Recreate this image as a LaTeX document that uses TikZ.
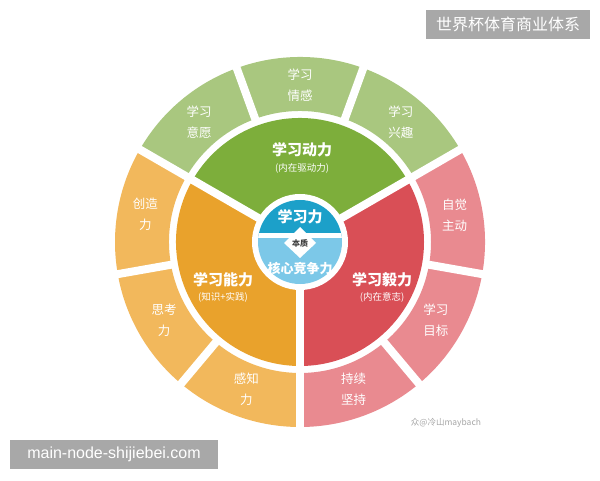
\documentclass[tikz,border=0pt]{standalone}
\usepackage{fontspec}
\setmainfont{Noto Sans CJK SC}
\newfontfamily\urlfont{Liberation Sans}

\definecolor{outergreen}{HTML}{A9C77F}
\definecolor{innergreen}{HTML}{7DAE3B}
\definecolor{outerorange}{HTML}{F2B85C}
\definecolor{innerorange}{HTML}{E9A22C}
\definecolor{outerpink}{HTML}{E98A90}
\definecolor{innerred}{HTML}{D94F56}
\definecolor{darkblue}{HTML}{1CA0C9}
\definecolor{lightblue}{HTML}{7CC8E8}
\definecolor{tagbg}{HTML}{A8A8A8}

\tikzset{
  outerlabel/.style={text=white, align=center, font=\fontsize{12.5}{21}\selectfont},
  innertitle/.style={text=white, font=\bfseries\fontsize{15}{18}\selectfont},
  innersub/.style={text=white, font=\fontsize{9.5}{11}\selectfont},
  gapline/.style={white, line width=8pt},
  tagbox/.style={fill=tagbg, text=white, minimum height=29pt, inner sep=0pt, font=\fontsize{16}{18}\selectfont}
}

\begin{document}
\begin{tikzpicture}[x=1pt,y=1pt]
        \useasboundingbox (0,0) rectangle (600,480);
        \fill[white] (0,0) rectangle (600,480);
        \coordinate (O) at (300,238);

        \begin{scope}[shift={(O)}]
            % outer ring
            \foreach \a/\b/\c in {30/150/outergreen, 150/270/outerorange, -90/30/outerpink}
                \fill[\c] (\a:131) arc[start angle=\a, end angle=\b, radius=131]
                    -- (\b:185) arc[start angle=\b, end angle=\a, radius=185] -- cycle;

            % inner sectors
            \fill[innergreen] (0,0) -- (30:124) arc[start angle=30, end angle=150, radius=124] -- cycle;
            \fill[innerorange] (0,0) -- (150:124) arc[start angle=150, end angle=270, radius=124] -- cycle;
            \fill[innerred] (0,0) -- (-90:124) arc[start angle=-90, end angle=30, radius=124] -- cycle;

            % gaps
            \foreach \a in {70,110,190,230,310,350}
                \draw[gapline] (\a:126) -- (\a:192);
            \foreach \a in {30,150,270}
                \draw[gapline] (0,0) -- (\a:192);

            % center
            \fill[white] (0,0) circle (48);
            \begin{scope}
                \clip (0,0) circle (42);
                \fill[darkblue] (-45,6) rectangle (45,45);
                \fill[lightblue] (-45,-45) rectangle (45,6);
                \draw[white, line width=5pt] (-45,6) -- (45,6);
            \end{scope}
            \fill[white] (0,15) -- (16,-1) -- (0,-16) -- (-16,-1) -- cycle;

            \node[innertitle, font=\bfseries\fontsize{15}{18}\selectfont] (core) at (0,25) {学习力};
            \node[font=\bfseries\fontsize{8}{10}\selectfont, text=black!75] (essence) at (0,-1) {本质};
            \node[innertitle, font=\bfseries\fontsize{13}{16}\selectfont] (compete) at (0,-27) {核心竞争力};

            % inner labels
            \node[innertitle] (motive) at (2,92) {学习动力};
            \node[innersub] (motiveSub) at (2,74) {(内在驱动力)};
            \node[innertitle] (ability) at (-77,-38) {学习能力};
            \node[innersub] (abilitySub) at (-77,-55) {(知识+实践)};
            \node[innertitle] (grit) at (82,-38) {学习毅力};
            \node[innersub] (gritSub) at (82,-55) {(内在意志)};

            % outer labels
            \node[outerlabel] (feeling) at (90:157) {学习\\情感};
            \node[outerlabel] (will) at (130:157) {学习\\意愿};
            \node[outerlabel] (interest) at (50:157) {学习\\兴趣};
            \node[outerlabel] (create) at (170:157) {创造\\力};
            \node[outerlabel] (think) at (210:157) {思考\\力};
            \node[outerlabel] (sense) at (250:157) {感知\\力};
            \node[outerlabel] (persist) at (290:157) {持续\\坚持};
            \node[outerlabel] (goal) at (330:157) {学习\\目标};
            \node[outerlabel] (selfdrive) at (10:157) {自觉\\主动};
        \end{scope}

        \node[text=black!35, font=\fontsize{8.5}{10}\selectfont] (mark) at (446,57) {众@冷山maybach};

        \node[tagbox, minimum width=164pt] (title) at (508,455.5) {世界杯体育商业体系};
        \node[tagbox, minimum width=208pt, font=\urlfont\fontsize{16}{18}\selectfont] (site) at (114,25.5) {main-node-shijiebei.com};

\end{tikzpicture}
\end{document}
